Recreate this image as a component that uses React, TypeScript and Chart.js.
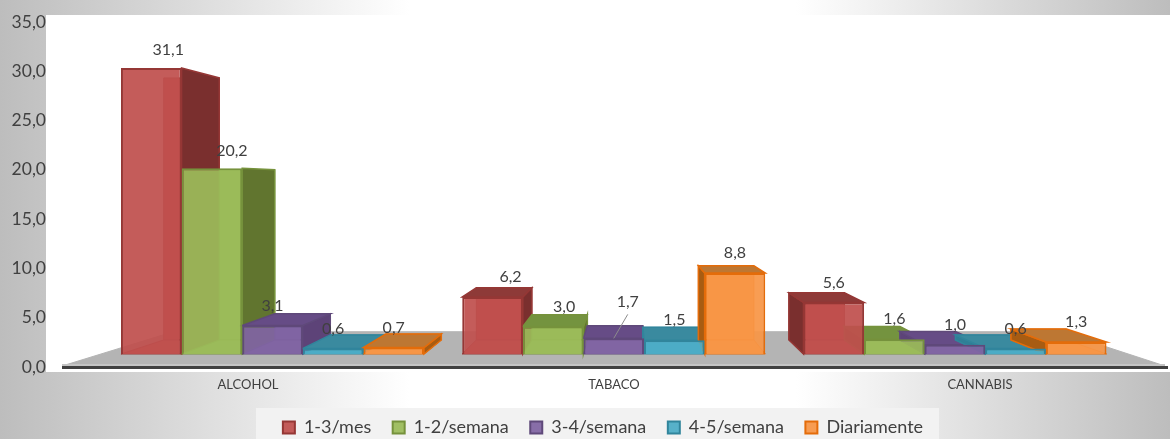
import React, { useEffect, useRef } from "react";
import { Chart, registerables } from "chart.js";

Chart.register(...registerables);

const categories = ["ALCOHOL", "TABACO", "CANNABIS"];
const seriesNames = ["1-3/mes", "1-2/semana", "3-4/semana", "4-5/semana", "Diariamente"];
const mes13 = [31.1, 6.2, 5.6];
const semana12 = [20.2, 3.0, 1.6];
const semana34 = [3.1, 1.7, 1.0];
const semana45 = [0.6, 1.5, 0.6];
const diariamente = [0.7, 8.8, 1.3];
const seriesValues = [mes13, semana12, semana34, semana45, diariamente];
const yTicksMax = 35;
const yTicksStep = 5;

const faceColors = ["192,80,77", "155,187,89", "128,100,162", "75,172,198", "247,150,70"];
const borderColors = ["#953735", "#76923c", "#5f497a", "#31859c", "#e46c0a"];
const sideColors = ["#7a2f2e", "#61752f", "#5d4378", "#2f7f96", "#a85c12"];
const topColors = ["#8e3a38", "#74933f", "#664c86", "#3a8a9f", "#bd7733"];

const fmt = (v: number) => v.toFixed(1).replace(".", ",");
const FONT = "Lato";
const VP = { x: 630, y: 187 };
const DEPTH = 0.916;
const labelNudge: Record<string, [number, number]> = {
  "0:0": [17, 2],
  "1:0": [20, 3],
  "0:1": [18, 0],
  "1:1": [11, 0],
  "2:1": [14, -17],
};

const poly = (ctx: CanvasRenderingContext2D, pts: number[][], fill: string, stroke: string, lw = 1.5) => {
  ctx.beginPath();
  pts.forEach((p, i) => (i ? ctx.lineTo(p[0], p[1]) : ctx.moveTo(p[0], p[1])));
  ctx.closePath();
  ctx.fillStyle = fill;
  ctx.fill();
  ctx.strokeStyle = stroke;
  ctx.lineWidth = lw;
  ctx.stroke();
};

const back = (x: number, y: number) => [VP.x + (x - VP.x) * DEPTH, VP.y + (y - VP.y) * DEPTH];

const box3d = {
  id: "box3d",
  afterLayout(chart: any) {
    const l = chart.legend;
    l.left = 36;
    l.right = 1170;
    l.top = 397;
  },
  beforeDraw(chart: any) {
    const { ctx } = chart;
    ctx.save();
    ctx.fillStyle = "#ffffff";
    ctx.fillRect(46, 15, 1124, 357);
    ctx.fillStyle = "#f2f2f2";
    ctx.fillRect(256, 408, 683, 31);
    ctx.restore();
  },
  beforeDatasetsDraw(chart: any) {
    const { ctx, chartArea } = chart;
    const by = chartArea.bottom;
    ctx.save();
    const fl = chartArea.left - 3;
    const fr = chartArea.right + 2;
    const s = 0.804;
    poly(
      ctx,
      [
        [fl, by - 1],
        [VP.x + (fl - VP.x) * s, VP.y + (by - VP.y) * s],
        [VP.x + (fr - VP.x) * s, VP.y + (by - VP.y) * s],
        [fr, by - 1],
      ],
      "#b4b4b4",
      "#b4b4b4",
      1
    );
    ctx.fillStyle = "#c4c4c4";
    ctx.fillRect(fl, by - 3, fr - fl, 2);
    ctx.fillStyle = "#404040";
    ctx.fillRect(fl, by - 1, fr - fl + 3, 3);

    const n = categories.length;
    for (let c = 0; c < n; c++) {
      seriesNames.forEach((_, d) => {
        const bar: any = chart.getDatasetMeta(d).data[c];
        const x0 = bar.x - bar.width / 2;
        const x1 = bar.x + bar.width / 2;
        const t = bar.y;
        const b = bar.base;
        const tl = back(x0, t);
        const tr = back(x1, t);
        const bl = back(x0, b);
        const br = back(x1, b);
        const rgb = faceColors[d];
        const line = borderColors[d];
        poly(ctx, [tl, tr, br, bl], `rgb(${rgb})`, line, 1);
        poly(ctx, [[x0, b], [x1, b], br, bl], `rgba(${rgb},0.85)`, line, 1);
        if (x1 < VP.x) poly(ctx, [[x1, t], tr, br, [x1, b]], sideColors[d], line);
        if (x0 > VP.x) poly(ctx, [[x0, t], tl, bl, [x0, b]], sideColors[d], line);
        if (tl[1] < t) poly(ctx, [[x0, t], [x1, t], tr, tl], topColors[d], line);
      });
    }
    ctx.restore();
  },
  afterDatasetsDraw(chart: any) {
    const { ctx } = chart;
    ctx.save();
    ctx.font = `16px ${FONT}`;
    ctx.textAlign = "center";
    ctx.textBaseline = "middle";
    seriesValues.forEach((vals, d) => {
      vals.forEach((v, c) => {
        const bar: any = chart.getDatasetMeta(d).data[c];
        const nudge = labelNudge[`${d}:${c}`] || [0, 0];
        const lx = bar.x + nudge[0];
        const ly = bar.y - 20 + nudge[1];
        if (nudge[1] < 0) {
          ctx.strokeStyle = "#8c8c8c";
          ctx.lineWidth = 1;
          ctx.beginPath();
          ctx.moveTo(lx, ly + 13);
          ctx.lineTo(bar.x, bar.y);
          ctx.stroke();
        }
        ctx.fillStyle = "#404040";
        ctx.fillText(fmt(v), lx, ly);
      });
    });
    ctx.restore();
  },
};

export default function App() {
  const ref = useRef<HTMLCanvasElement>(null);
  useEffect(() => {
    const chart = new Chart(ref.current as HTMLCanvasElement, {
      type: "bar",
      data: {
        labels: categories,
        datasets: seriesNames.map((name, d) => ({
          label: name,
          data: seriesValues[d].map((v, i) => ({ x: i, y: v })),
          xAxisID: "xBars",
          yAxisID: "yBars",
          backgroundColor: `rgba(${faceColors[d]},0.93)`,
          borderColor: borderColors[d],
          borderWidth: 2,
          categoryPercentage: 0.888,
          barPercentage: 1,
        })),
      } as any,
      options: {
        animation: false,
        responsive: false,
        layout: { padding: { left: 0, right: 7, top: 22, bottom: 0 } },
        plugins: {
          tooltip: { enabled: false },
          legend: {
            position: "bottom",
            maxHeight: 31,
            labels: {
              boxWidth: 12,
              boxHeight: 12,
              padding: 21.5,
              color: "#404040",
              font: { family: FONT, size: 18 },
            },
          },
        },
        scales: {
          x: {
            type: "category",
            labels: categories,
            offset: true,
            grid: { display: false },
            border: { display: false },
            ticks: { color: "#404040", font: { family: FONT, size: 13 }, padding: 2, maxRotation: 0 },
            afterFit: (s: any) => {
              s.height = 41;
            },
          },
          y: {
            type: "linear",
            min: 0,
            max: yTicksMax,
            grid: { display: false },
            border: { display: false },
            ticks: {
              stepSize: yTicksStep,
              color: "#404040",
              font: { family: FONT, size: 17.5 },
              padding: 11,
              callback: (v: any) => fmt(Number(v)),
            },
            afterFit: (s: any) => {
              s.width = 65;
            },
          },
          xBars: {
            type: "linear",
            display: false,
            offset: false,
            min: -0.608,
            max: 2.6095,
            grid: { display: false },
            afterBuildTicks: (s: any) => {
              s.ticks = categories.map((_, i) => ({ value: i }));
            },
          },
          yBars: { type: "linear", display: false, min: -1.413, max: 36.09, grid: { display: false } },
        },
      } as any,
      plugins: [box3d] as any,
    });
    return () => chart.destroy();
  }, []);
  return (
    <div
      style={{
        position: "fixed",
        left: 0,
        top: 0,
        width: 1170,
        height: 439,
        background: "linear-gradient(90deg, #bdbdbd 0%, #ffffff 35%, #ffffff 68%, #bdbdbd 100%)",
      }}
    >
      <canvas ref={ref} width={1170} height={439} style={{ display: "block" }} />
    </div>
  );
}
